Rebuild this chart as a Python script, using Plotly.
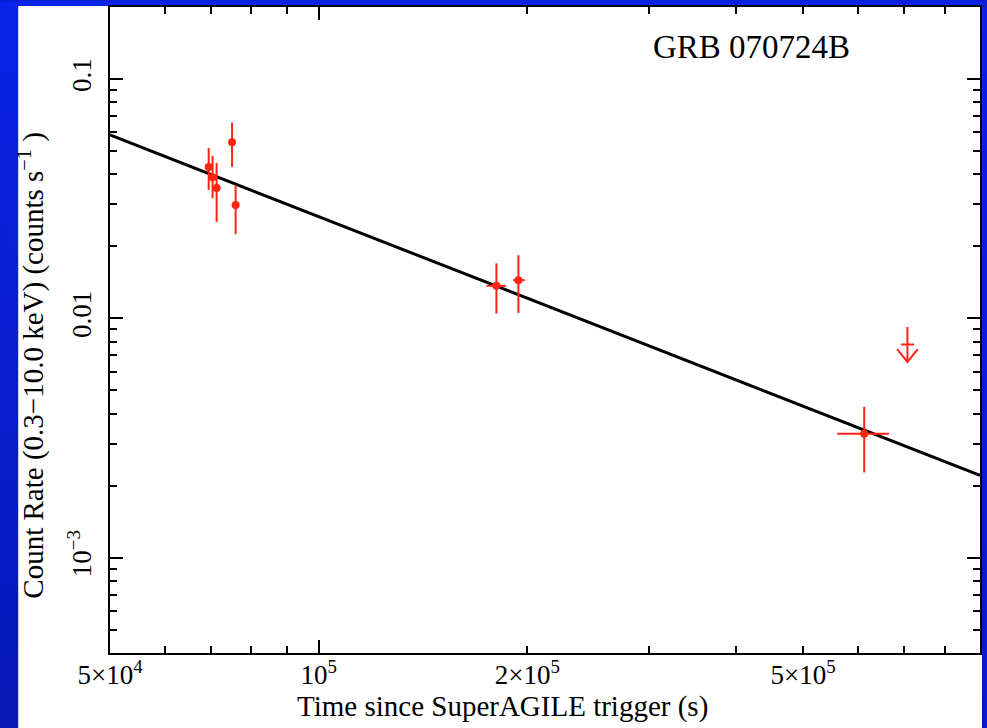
import numpy as np
import plotly.graph_objects as go

# ---------------- data ----------------
t = [69400, 70300, 71250, 75000, 75900, 180500, 194200, 612600]
t_err_minus = [0, 0, 0, 0, 0, 5800, 3400, 52600]
t_err_plus = [0, 0, 0, 0, 0, 5800, 4200, 52400]
rate = [0.0429, 0.0389, 0.0351, 0.0545, 0.0298, 0.01368, 0.01445, 0.0033]
rate_hi = [0.0515, 0.0477, 0.0446, 0.0658, 0.0361, 0.01698, 0.01837, 0.00427]
rate_lo = [0.0344, 0.0318, 0.0253, 0.0430, 0.0225, 0.01048, 0.01054, 0.00227]

# upper limit
ul_t = 707200
ul_t_minus = 14700
ul_t_plus = 15800
ul_rate = 0.00778
ul_top = 0.00921
ul_tip = 0.00658

# power-law fit line
fit_t = [5e4, 9e5]
fit_rate = [0.0584, 0.00221]

# ticks
x_tickvals = [5e4, 6e4, 7e4, 8e4, 9e4, 1e5, 2e5, 3e5, 4e5, 5e5, 6e5, 7e5, 8e5]
x_ticktext = ["5×10<sup>4</sup>", "", "", "", "", "10<sup>5</sup>", "2×10<sup>5</sup>",
              "", "", "5×10<sup>5</sup>", "", "", ""]
x_major = [1e5]
y_major = [1e-3, 1e-2, 1e-1]
y_major_text = ["10<sup>−3</sup>", "0.01", "0.1"]
y_minor = [m * d for d in (1e-4, 1e-3, 1e-2, 1e-1) for m in range(2, 10)]

RED = "#ff2414"
FONT = "Liberation Serif"
HEAD_DX = 1.035   # arrow-head half width (multiplicative, log axis)
HEAD_DY = 1.13    # arrow-head height (multiplicative, log axis)

x_range = [np.log10(5e4), np.log10(9e5)]
y_range = [np.log10(4e-4), np.log10(0.2)]

fig = go.Figure()

fig.add_trace(go.Scatter(
    x=fit_t, y=fit_rate, mode="lines",
    line=dict(color="black", width=3), hoverinfo="skip", showlegend=False))

err_plus = [h - r for h, r in zip(rate_hi, rate)]
err_minus = [r - l for r, l in zip(rate, rate_lo)]
fig.add_trace(go.Scatter(
    x=t, y=rate, mode="markers",
    marker=dict(color=RED, size=8),
    error_y=dict(type="data", symmetric=False, array=err_plus, arrayminus=err_minus,
                 color=RED, thickness=2, width=0),
    error_x=dict(type="data", symmetric=False, array=t_err_plus, arrayminus=t_err_minus,
                 color=RED, thickness=2, width=0),
    showlegend=False))

fig.add_trace(go.Scatter(
    x=[ul_t], y=[ul_rate], mode="markers",
    marker=dict(color=RED, size=1),
    error_x=dict(type="data", symmetric=False, array=[ul_t_plus], arrayminus=[ul_t_minus],
                 color=RED, thickness=2, width=0),
    showlegend=False))

# upper-limit arrow (shaft + open V head)
arrow_x = [ul_t, ul_t, None, ul_t / HEAD_DX, ul_t, ul_t * HEAD_DX]
arrow_y = [ul_top, ul_tip, None, ul_tip * HEAD_DY, ul_tip, ul_tip * HEAD_DY]
fig.add_trace(go.Scatter(
    x=arrow_x, y=arrow_y, mode="lines", line=dict(color=RED, width=2),
    hoverinfo="skip", showlegend=False))

# invisible trace for overlay tick axes
fig.add_trace(go.Scatter(x=[1e5], y=[0.01], xaxis="x2", yaxis="y2", mode="markers",
                         marker=dict(opacity=0), hoverinfo="skip", showlegend=False))

# background: blue gradient + white panel
W, H = 987, 728
L, R, T, B = 110, 5, 6, 75
pw, ph = W - L - R, H - T - B
def px(xp):
    return (xp - L) / pw
def py(yp):
    return (H - B - yp) / ph

shapes = []
nb = 20
top_c = np.array([11, 36, 232])
bot_c = np.array([8, 24, 182])
for i in range(nb):
    c = top_c + (bot_c - top_c) * (i + 0.5) / nb
    shapes.append(dict(type="rect", xref="paper", yref="paper", layer="below",
                       x0=px(0), x1=px(W), y0=py(H * i / nb), y1=py(H * (i + 1) / nb + 1),
                       line=dict(width=0), fillcolor="rgb(%d,%d,%d)" % tuple(c)))
shapes.append(dict(type="rect", xref="paper", yref="paper", layer="below",
                   x0=px(18), x1=px(984), y0=py(H), y1=py(5),
                   line=dict(width=0), fillcolor="white"))

axis_common = dict(type="log", showgrid=False, zeroline=False, showline=True,
                   linecolor="black", linewidth=2, ticks="inside", tickwidth=2,
                   tickcolor="black", mirror="ticks")

fig.update_layout(
    width=W, height=H,
    margin=dict(l=L, r=R, t=T, b=B),
    paper_bgcolor="rgb(10,30,210)", plot_bgcolor="white",
    shapes=shapes,
    xaxis=dict(**axis_common, range=x_range, tickvals=x_tickvals, ticktext=x_ticktext,
               ticklen=7, tickfont=dict(family=FONT, size=27, color="black"),
               ticklabelstandoff=-3),
    xaxis2=dict(**axis_common, range=x_range, overlaying="x", anchor="y2", side="bottom",
                tickvals=x_major, ticklen=13, showticklabels=False),
    yaxis=dict(**axis_common, range=y_range, tickvals=y_major + y_minor,
               ticktext=y_major_text + [""] * len(y_minor),
               ticklen=7, tickangle=-90,
               tickfont=dict(family=FONT, size=27, color="black"),
               ticklabelstandoff=6),
    yaxis2=dict(**axis_common, range=y_range, overlaying="y", anchor="x2", side="left",
                tickvals=y_major, ticklen=13, showticklabels=False),
    annotations=[
        dict(text="GRB 070724B", x=px(753), y=py(46), xref="paper", yref="paper",
             showarrow=False, font=dict(family=FONT, size=33, color="black"),
             xanchor="center", yanchor="middle"),
        dict(text="Time since SuperAGILE trigger (s)", x=px(503), y=py(707),
             xref="paper", yref="paper", showarrow=False,
             font=dict(family=FONT, size=29, color="black"),
             xanchor="center", yanchor="middle"),
        dict(text="Count Rate (0.3−10.0 keV) (counts s<sup>−1</sup> )", x=px(31), y=py(365),
             xref="paper", yref="paper", showarrow=False, textangle=-90,
             font=dict(family=FONT, size=29, color="black"),
             xanchor="center", yanchor="middle"),
    ],
)

fig.write_html("out.html")
